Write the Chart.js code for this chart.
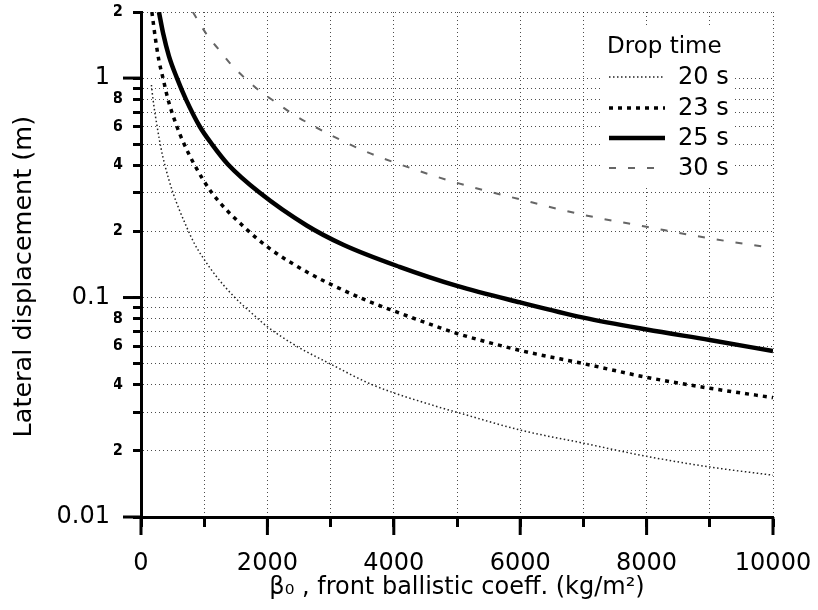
<!DOCTYPE html>
<html><head><meta charset="utf-8">
<script src="https://cdn.jsdelivr.net/npm/chart.js@4.4.1/dist/chart.umd.min.js"></script>
<style>html,body{margin:0;padding:0;background:#fff}#wrap{width:818px;height:610px}</style>
</head><body><div id="wrap"><canvas id="c" width="818" height="610"></canvas></div>
<script>
// ---- data ----
const beta20 = [165, 190, 269, 316, 379, 506, 727, 850, 980, 1200, 1485, 1750, 1990, 2464, 2986, 3665, 4724, 5000, 6000, 7000, 8000, 9000, 10000];
const disp20 = [0.93, 0.8, 0.57, 0.48, 0.4, 0.3, 0.208, 0.175, 0.152, 0.124, 0.1, 0.085, 0.074, 0.06, 0.05, 0.04, 0.0316, 0.030, 0.0249, 0.0217, 0.0189, 0.0169, 0.0155];

const beta23 = [172, 230, 284, 348, 427, 569, 663, 837, 1122, 1643, 2038, 2600, 3000, 3570, 3980, 4723, 5000, 6000, 7000, 8000, 9000, 10000];
const disp23 = [2.0, 1.5, 1.2, 1.0, 0.8, 0.6, 0.515, 0.407, 0.3, 0.208, 0.167, 0.132, 0.115, 0.097, 0.0873, 0.073, 0.0686, 0.0574, 0.050, 0.0433, 0.0386, 0.035];

const beta25 = [284, 350, 442, 569, 711, 932, 1121, 1374, 1880, 2622, 3200, 4090, 5000, 6000, 7000, 8000, 9000, 10000];
const disp25 = [2.0, 1.6, 1.26, 1.0, 0.8, 0.6, 0.5, 0.405, 0.3, 0.213, 0.174, 0.138, 0.113, 0.095, 0.081, 0.0715, 0.064, 0.057];

const beta30 = [820, 1040, 1248, 1406, 1643, 1880, 2148, 2400, 2940, 3500, 4090, 5000, 6000, 7000, 8000, 9000, 10000];
const disp30 = [2.0, 1.58, 1.33, 1.17, 1.0, 0.873, 0.77, 0.686, 0.562, 0.47, 0.405, 0.333, 0.28, 0.238, 0.21, 0.186, 0.168];

const seriesNames = ['20 s', '23 s', '25 s', '30 s'];

const yTickValues = [0.01,0.02,0.03,0.04,0.05,0.06,0.07,0.08,0.09,0.1,0.2,0.3,0.4,0.5,0.6,0.7,0.8,0.9,1,2];
const yMinorLabels = ['', '2', '', '4', '', '6', '', '8', '', '', '2', '', '4', '', '6', '', '8', '', '', '2'];
const yMajorValues = [0.01, 0.1, 1];
const yMajorLabels = ['0.01', '0.1', '1'];
const xMajorValues = [0, 2000, 4000, 6000, 8000, 10000];

// ---- styles ----
const FONT = 'DejaVu Sans';
const styles = [
  {color: '#222', width: 1.5, dash: [1.5, 2.5]},
  {color: '#000', width: 3.5, dash: [4, 5]},
  {color: '#000', width: 4.5, dash: []},
  {color: '#666', width: 2, dash: [7, 12]}
];
const pairs = [[beta20, disp20], [beta23, disp23], [beta25, disp25], [beta30, disp30]];

const datasets = pairs.map((p, i) => ({
  label: seriesNames[i],
  data: p[0].map((b, k) => ({x: b, y: p[1][k]})),
  borderColor: styles[i].color,
  borderWidth: styles[i].width,
  borderDash: styles[i].dash,
  pointRadius: 0,
  fill: false,
  cubicInterpolationMode: 'monotone',
  yAxisID: 'y'
}));

const GRID_COLOR = 'rgba(0,0,0,0.7)';

const extrasPlugin = {
  id: 'extras',
  afterDraw(chart) {
    const ctx = chart.ctx;
    const xs = chart.scales.x, ys = chart.scales.y;
    const area = chart.chartArea;
    ctx.save();
    ctx.strokeStyle = '#000';
    ctx.lineWidth = 3;
    ctx.setLineDash([]);
    // longer major ticks
    xMajorValues.forEach(v => {
      const px = xs.getPixelForValue(v);
      ctx.beginPath(); ctx.moveTo(px, area.bottom); ctx.lineTo(px, area.bottom + 18); ctx.stroke();
    });
    yMajorValues.forEach(v => {
      const py = ys.getPixelForValue(v);
      ctx.beginPath(); ctx.moveTo(area.left - 18, py); ctx.lineTo(area.left, py); ctx.stroke();
    });
    // legend inside plot
    const lx = 600, ly = 26, lw = 132, lh = 160;
    ctx.fillStyle = '#fff';
    ctx.fillRect(lx, ly, lw, lh);
    ctx.fillStyle = '#000';
    ctx.font = '23px "' + FONT + '"';
    ctx.textAlign = 'left';
    ctx.textBaseline = 'alphabetic';
    ctx.fillText('Drop time', 607, 53);
    const rows = [77, 108, 138, 168];
    ctx.font = '24px "' + FONT + '"';
    ctx.textBaseline = 'middle';
    rows.forEach((ry, i) => {
      const st = styles[i];
      ctx.strokeStyle = st.color;
      ctx.lineWidth = st.width;
      ctx.setLineDash(st.dash);
      ctx.beginPath(); ctx.moveTo(609, ry); ctx.lineTo(665, ry); ctx.stroke();
      ctx.setLineDash([]);
      ctx.fillStyle = '#000';
      ctx.fillText(seriesNames[i], 678, ry + 1);
    });
    ctx.restore();
  }
};

new Chart(document.getElementById('c'), {
  type: 'line',
  data: {datasets},
  options: {
    responsive: false,
    devicePixelRatio: 1,
    animation: false,
    layout: {padding: {left: 0, top: 12, right: 45, bottom: 0}},
    plugins: {legend: {display: false}, tooltip: {enabled: false}},
    scales: {
      x: {
        type: 'linear', min: 0, max: 10000,
        afterFit(s) { s.height = 93; s.paddingLeft = 0; s.paddingRight = 0; },
        ticks: {
          stepSize: 1000, autoSkip: false, maxRotation: 0, padding: 22,
          color: '#000', font: {family: FONT, size: 24},
          callback: (v) => (v % 2000 === 0 ? String(v) : '')
        },
        grid: {color: GRID_COLOR, lineWidth: 1, drawTicks: true, tickLength: 10, tickWidth: 3, tickColor: '#000'},
        border: {display: true, color: '#000', width: 3, dash: [1, 3]},
        title: {display: true, text: 'β₀ , front ballistic coeff. (kg/m²)', color: '#000',
                font: {family: FONT, size: 24}, padding: {top: 0, bottom: 8}}
      },
      y: {
        type: 'logarithmic', min: 0.01, max: 2, position: 'left', weight: 0,
        afterBuildTicks(s) { s.ticks = yTickValues.map(v => ({value: v})); },
        afterFit(s) { s.width = 27; s.paddingTop = 0; s.paddingBottom = 0; },
        ticks: {
          autoSkip: false, padding: 10, color: '#000',
          font: {family: FONT, size: 15, weight: 'bold'},
          callback: (v, i) => yMinorLabels[i]
        },
        grid: {color: GRID_COLOR, lineWidth: 1, drawTicks: true, tickLength: 8, tickWidth: 3, tickColor: '#000'},
        border: {display: true, color: '#000', width: 3, dash: [1, 3]}
      },
      yMajor: {
        type: 'logarithmic', min: 0.01, max: 2, position: 'left', weight: 1,
        afterBuildTicks(s) { s.ticks = yMajorValues.map(v => ({value: v})); },
        afterFit(s) { s.width = 114; s.paddingTop = 0; s.paddingBottom = 0; },
        ticks: {
          autoSkip: false, padding: 4, color: '#000',
          font: {family: FONT, size: 24},
          callback: (v, i) => yMajorLabels[i]
        },
        grid: {display: false, drawTicks: false},
        border: {display: false},
        title: {display: true, text: 'Lateral displacement (m)   ', color: '#000',
                font: {family: FONT, size: 25.5}, padding: {top: 9, bottom: 0}}
      }
    }
  },
  plugins: [extrasPlugin]
});
</script>
</body></html>
